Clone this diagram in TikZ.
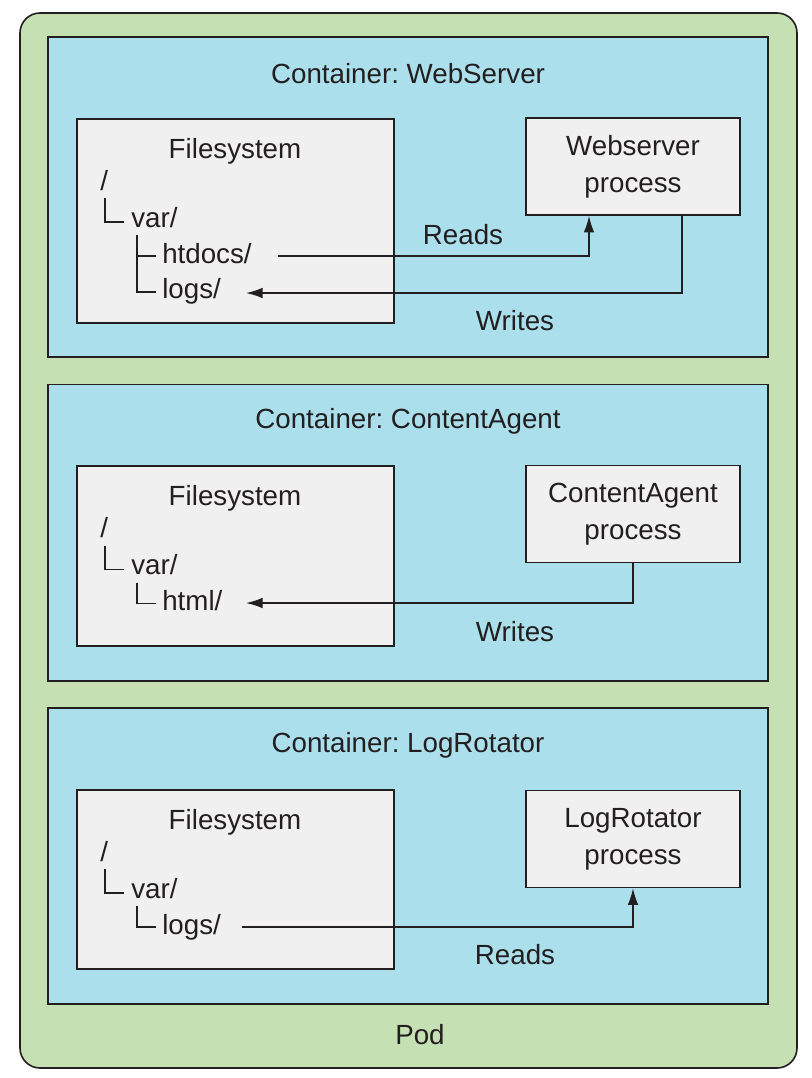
\documentclass[tikz,border=0pt]{standalone}
\usepackage{fontspec}
\setmainfont{Liberation Sans}
\usepackage{tikz}
\usetikzlibrary{arrows.meta}
\usepackage{xcolor}
\frenchspacing

\definecolor{podgreen}{HTML}{C5E0B3}
\definecolor{ctblue}{HTML}{ABDFEC}
\definecolor{boxgray}{HTML}{F0F0F0}
\definecolor{inkdark}{HTML}{231F20}

\tikzset{
	lbl/.style={font=\fontsize{20.8}{27.5}\selectfont, text=inkdark, inner sep=0pt},
	podbox/.style={draw=inkdark, line width=1.2pt, fill=podgreen, rounded corners=15pt},
	ctbox/.style={draw=inkdark, line width=1.2pt, fill=ctblue},
	fsbox/.style={draw=inkdark, line width=1.2pt, fill=boxgray, inner sep=0pt},
	procbox/.style={fsbox, minimum width=160.5pt, minimum height=72.75pt, align=center, lbl},
	flow/.style={draw=inkdark, line width=1.1pt, -{Latex[length=12.5pt,width=8pt]}},
	tree/.style={draw=inkdark, line width=1.1pt},
}

\begin{document}
\begin{tikzpicture}[x=0.75pt, y=-0.75pt]
		\useasboundingbox (0,0) rectangle (811,1078);

		% Pod
		\draw[podbox] (20,13) rectangle (797,1068);
		\node[lbl] (pod) at (420,1035) {Pod};

		% Container: WebServer
		\draw[ctbox] (48,37) rectangle (768,357);
		\node[lbl] (title1) at (408,74) {Container: WebServer};
		\node[fsbox, minimum width=237.75pt, minimum height=153pt] (fs1) at (235.5,221) {};
		\node[lbl] (fstitle1) at (235,151) {Filesystem};
		\node[lbl, anchor=base west] (root1) at (100,190) {/};
		\node[lbl, anchor=base west] (var1) at (131,227) {var/};
		\node[lbl, anchor=base west] (htdocs1) at (162,263) {htdocs/};
		\node[lbl, anchor=base west] (logs1) at (162,298) {logs/};
		\draw[tree] (105,198) |- (124,222);
		\draw[tree] (137,235) |- (156,292);
		\draw[tree] (137,256) -- (156,256);
		\node[procbox] (proc1) at (633,166.5) {Webserver\\process};
		\coordinate (rd1) at (278,256);
		\coordinate (wr1) at (246,293);
		\draw[flow] (rd1) -| ([xshift=-33pt]proc1.south);
		\draw[flow] ([xshift=36.75pt]proc1.south) |- (wr1);
		\node[lbl] (reads1) at (463,235) {Reads};
		\node[lbl] (writes1) at (515,321) {Writes};

		% Container: ContentAgent
		\begin{scope}[shift={(0,347.5)}]
			\draw[ctbox] (48,37) rectangle (768,333.5);
			\node[lbl] (title2) at (408,73.5) {Container: ContentAgent};
			\node[fsbox, minimum width=237.75pt, minimum height=135pt] (fs2) at (235.5,208.5) {};
			\node[lbl] (fstitle2) at (235,151) {Filesystem};
			\node[lbl, anchor=base west] (root2) at (100,190) {/};
			\node[lbl, anchor=base west] (var2) at (131,227) {var/};
			\node[lbl, anchor=base west] (html2) at (162,263) {html/};
			\draw[tree] (105,198) |- (124,222);
			\draw[tree] (137,235) |- (156,256);
			\node[procbox] (proc2) at (633,166.5) {ContentAgent\\process};
			\coordinate (wr2) at (246,255.5);
			\draw[flow] (proc2.south) |- (wr2);
			\node[lbl] (writes2) at (515,284.5) {Writes};
		\end{scope}

		% Container: LogRotator
		\begin{scope}[shift={(0,671)}]
			\draw[ctbox] (48,37) rectangle (768,333);
			\node[lbl] (title3) at (408,74) {Container: LogRotator};
			\node[fsbox, minimum width=237.75pt, minimum height=134.25pt] (fs3) at (235.5,208.5) {};
			\node[lbl] (fstitle3) at (235,151) {Filesystem};
			\node[lbl, anchor=base west] (root3) at (100,190) {/};
			\node[lbl, anchor=base west] (var3) at (131,227) {var/};
			\node[lbl, anchor=base west] (logs3) at (162,263) {logs/};
			\draw[tree] (105,198) |- (124,222);
			\draw[tree] (137,235) |- (156,256);
			\node[procbox] (proc3) at (633,168) {LogRotator\\process};
			\coordinate (rd3) at (242,256);
			\draw[flow] (rd3) -| (proc3.south);
			\node[lbl] (reads3) at (515,284) {Reads};
		\end{scope}
	\end{tikzpicture}
\end{document}
